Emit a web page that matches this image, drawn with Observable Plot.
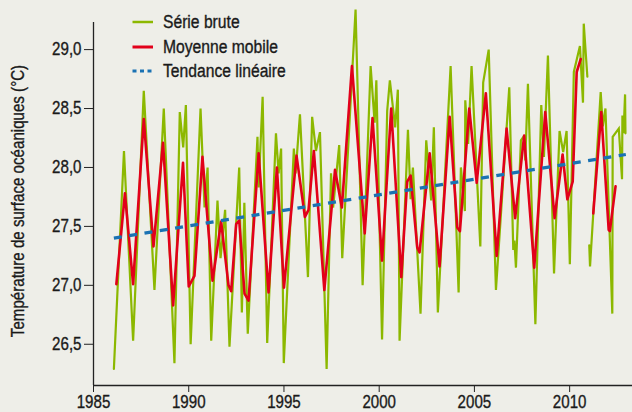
<!DOCTYPE html>
<html><head><meta charset="utf-8">
<script src="https://cdn.jsdelivr.net/npm/d3@7"></script>
<script src="https://cdn.jsdelivr.net/npm/@observablehq/plot@0.6"></script>
<style>
html,body{margin:0;padding:0;background:#eeeee8;}
#chart{position:relative;width:632px;height:412px;overflow:hidden;font-family:"Liberation Sans Narrow","Liberation Sans",sans-serif;color:#1a1a1a;}
#chart > svg{position:absolute;left:0;top:0;}
#legend{position:absolute;left:132px;top:0;}
.row{position:absolute;left:0;height:24px;line-height:24px;white-space:nowrap;font-size:18px;}
.row svg{vertical-align:top;margin-right:10px;}
.row span{display:inline-block;transform:scaleX(0.87);transform-origin:0 50%;-webkit-text-stroke:0.35px #1a1a1a;}
</style>
</head><body>
<div id="chart"><div id="legend"></div></div>
<script>
// ---- Data ----
const rawYears = [1986.07,1986.60,1987.08,1987.64,1988.20,1988.69,1989.25,1989.53,1989.71,1989.85,
 1990.10,1990.62,1990.83,1990.99,1991.18,1991.51,1991.67,1991.91,1992.14,1992.65,1992.79,1992.92,
 1993.10,1993.61,1993.67,1993.88,1994.12,1994.58,1994.72,1994.85,1994.99,1995.52,1995.61,1995.84,
 1996.26,1996.48,1996.68,1996.89,1997.24,1997.47,1997.58,1997.90,1998.06,1998.76,1999.13,1999.55,
 1999.76,1999.85,2000.15,2000.42,2000.56,2000.84,2000.98,2001.07,2001.51,2001.65,2001.77,2002.17,
 2002.47,2002.73,2002.87,2003.08,2003.75,2004.17,2004.29,2004.50,2004.52,2004.67,2004.85,2005.31,
 2005.46,2005.75,2006.13,2006.83,2007.04,2007.10,2007.18,2007.44,2007.62,2007.67,2007.81,2008.20,
 2008.51,2008.65,2008.86,2009.18,2009.47,2009.66,2009.84,2010.01,2010.22,2010.54,2010.70,2010.74,
 2010.93,2010.98,2011.03,2011.07,2011.63,2011.74,2011.88,2012.24,2012.26,2012.58,2012.75,2012.77,
 2012.83,2012.91,2012.93];
const rawValues = [26.29,28.14,26.53,28.65,26.96,28.50,26.34,28.47,28.17,28.53,
 26.50,28.50,27.66,28.00,26.53,27.72,27.23,27.64,26.48,28.00,26.77,27.70,
 26.59,28.26,27.83,28.60,26.51,28.29,27.95,28.16,26.34,28.16,27.95,28.45,
 27.07,28.43,28.14,28.30,26.29,27.95,27.66,28.19,27.23,29.34,27.00,28.86,
 28.38,28.74,26.54,28.48,28.74,28.34,28.66,26.53,28.32,27.73,28.00,26.76,
 28.23,27.72,28.34,26.77,28.86,26.94,28.00,27.63,28.57,28.20,28.86,27.33,
 28.72,29.00,26.96,28.68,27.30,27.38,27.15,28.23,28.27,28.06,28.71,26.67,
 28.53,28.09,28.95,27.10,28.31,28.13,28.31,27.18,28.81,29.03,28.55,29.22,
 28.77,null,27.34,27.16,28.64,28.35,28.50,26.76,28.26,28.33,27.90,28.44,
 28.29,28.62,28.29];

const maYears = [1986.20,1986.65,1987.08,1987.64,1988.15,1988.65,1989.18,1989.70,1990.00,1990.30,
 1990.72,1991.25,1991.70,1992.09,1992.23,1992.49,1992.65,1992.93,1993.14,1993.67,1994.19,1994.63,
 1995.00,1995.66,1996.10,1996.29,1996.57,1997.12,1997.68,1998.04,1998.57,1999.24,1999.65,2000.15,
 2000.63,2001.16,2001.47,2001.65,2002.00,2002.12,2002.65,2003.17,2003.70,2004.10,2004.24,2004.73,
 2005.12,2005.60,2006.17,2006.69,2007.14,2007.61,2008.14,2008.72,2009.21,2009.63,2009.88,2010.16,
 2010.37,2010.58,2010.90,2011.24,2011.66,2012.05,2012.11,2012.41];
const maValues = [27.01,27.78,27.01,28.41,27.33,28.21,26.83,28.04,26.99,27.08,
 28.09,27.04,27.54,27.00,26.95,27.52,27.55,26.93,26.87,28.12,26.94,28.00,
 26.98,28.10,27.58,27.64,28.14,26.96,27.98,27.66,28.86,27.44,28.42,27.21,
 28.50,27.07,27.88,27.93,27.32,27.28,28.12,27.16,28.43,27.49,27.46,28.50,
 27.87,28.63,27.25,28.33,27.57,28.27,27.15,28.47,27.57,28.11,27.73,27.88,
 28.81,28.92,null,27.61,28.47,27.47,27.46,27.84];

const trendYears = [1986.07, 2012.95];
const trendValues = [27.40, 28.11];

const xTicks = [1985, 1990, 1995, 2000, 2005, 2010];
const yTicks = [26.5, 27.0, 27.5, 28.0, 28.5, 29.0];
const yLabel = "Température de surface océaniques (°C)";
const legendLabels = ["Série brute", "Moyenne mobile", "Tendance linéaire"];

const GREEN = "#8cb800", RED = "#e2001a", BLUE = "#1a72b3";
const FONT = '"Liberation Sans Narrow","Liberation Sans",sans-serif';

const raw = rawYears.map((x, i) => ({x, y: rawValues[i]}));
const ma = maYears.map((x, i) => ({x, y: maValues[i]}));
const trend = trendYears.map((x, i) => ({x, y: trendValues[i]}));

const chart = Plot.plot({
  width: 632, height: 412,
  marginLeft: 93, marginRight: 0, marginTop: 22, marginBottom: 27,
  style: {background: "transparent", fontFamily: FONT, color: "#1a1a1a", overflow: "visible"},
  x: {domain: [1985, 2013.3]},
  y: {domain: [26.15, 29.23]},
  marks: [
    Plot.axisX({ticks: xTicks, tickFormat: d => String(d), tickSize: 7, tickPadding: 3, fontSize: 18, label: null, stroke: "#222"}),
    Plot.axisY({ticks: yTicks, tickFormat: d => d.toFixed(1).replace(".", ","), tickSize: 9, tickPadding: 3, fontSize: 18, label: null, stroke: "#222"}),
    Plot.ruleX([1985], {stroke: "#222", strokeWidth: 1.3}),
    Plot.ruleY([26.15], {stroke: "#222", strokeWidth: 1.3}),
    Plot.line(raw, {x: "x", y: "y", stroke: GREEN, strokeWidth: 2.2, strokeLinejoin: "miter", strokeMiterlimit: 3}),
    Plot.line(ma, {x: "x", y: "y", stroke: RED, strokeWidth: 2.6}),
    Plot.line(trend, {x: "x", y: "y", stroke: BLUE, strokeWidth: 3.2, strokeDasharray: "8,7.5", strokeLinecap: "butt"}),
    Plot.text([yLabel], {frameAnchor: "left", textAnchor: "middle", rotate: -90, dx: -75, dy: -3, fontSize: 18, fill: "#1a1a1a"})
  ]
});
// condense the text horizontally (narrow typeface look), scaling around each text's anchor
chart.querySelectorAll("text").forEach(t => {
  const tr = t.getAttribute("transform") || "";
  t.setAttribute("transform", tr + " scale(0.84,1)");
  t.setAttribute("stroke", "#1a1a1a");
  t.setAttribute("stroke-width", "0.35");
  t.setAttribute("fill", "#1a1a1a");
});
const container = document.getElementById("chart");
container.insertBefore(chart, container.firstChild);

const legendStyles = [
  {color: GREEN, dash: null, width: 2.5},
  {color: RED, dash: null, width: 3},
  {color: BLUE, dash: "4,3.5", width: 3}
];
const legend = document.getElementById("legend");
const centers = [21.7, 46.5, 71];
legendLabels.forEach((label, i) => {
  const st = legendStyles[i];
  const row = document.createElement("div");
  row.className = "row";
  row.style.top = (centers[i] - 12) + "px";
  const sw = d3.create("svg").attr("width", 21).attr("height", 24);
  sw.append("line").attr("x1", 0.5).attr("x2", 21).attr("y1", 12).attr("y2", 12)
    .attr("stroke", st.color).attr("stroke-width", st.width)
    .attr("stroke-dasharray", st.dash);
  row.appendChild(sw.node());
  const span = document.createElement("span");
  span.textContent = label;
  row.appendChild(span);
  legend.appendChild(row);
});
</script>
</body></html>
